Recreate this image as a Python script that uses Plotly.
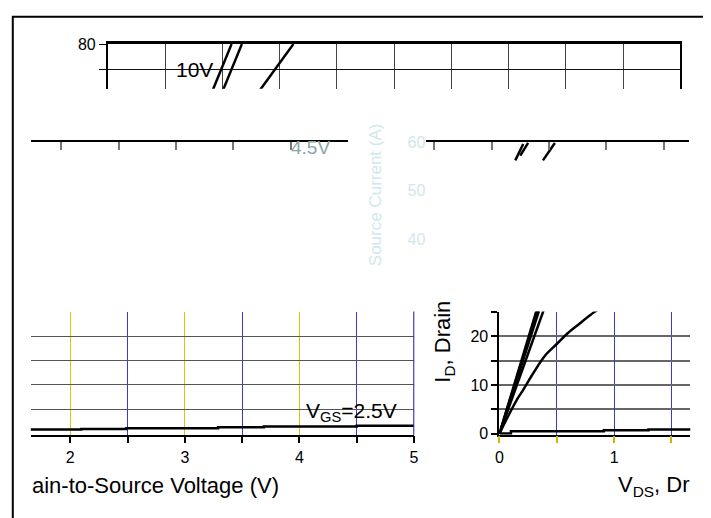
import plotly.graph_objects as go

W, H = 711, 518

# ---------------- data ----------------
# top strip (upper chart, high-current region)
top_y = [70, 80]
top_x_10v = [0.90, 1.08]
top_x_8v = [0.99, 1.17]
top_x_6v = [1.30, 1.62]

# middle-right fragments
mid_x_a = [0.707, 0.776]
mid_y_a = [56.2, 59.6]
mid_x_b = [0.750, 0.819]
mid_y_b = [57.2, 59.8]
mid_x_c = [0.948, 1.052]
mid_y_c = [56.2, 59.8]
mid_ticklabels = ["40", "50", "60"]
mid_tickvals = [40, 50, 60]

# output characteristics (V_DS, I_D)
vgs25_x = [0, 0.1, 0.91, 1.3, 2.095, 2.49, 3.29, 3.69, 4.5, 5.0]
vgs25_y = [0.05, 0.5, 0.7, 0.85, 0.95, 1.1, 1.3, 1.45, 1.65, 1.65]

steep_y = [0, 10, 20, 28]
steep_x1 = [0, 0.128, 0.256, 0.358]
steep_x2 = [0, 0.132, 0.264, 0.370]
steep_x3 = [0, 0.137, 0.274, 0.383]
steep_x4 = [0, 0.152, 0.304, 0.426]

v45_x = [0, 0.05, 0.1, 0.15, 0.207, 0.3, 0.397, 0.5, 0.595, 0.7, 0.83, 0.9]
v45_y = [0, 2.4, 4.7, 6.9, 9.0, 12.6, 16.0, 18.4, 20.6, 22.6, 25.0, 26.0]

FONT = "Liberation Sans, Arial, sans-serif"
GHOST = "#cfe8eb"
OFF = 8  # page offset of the plot inside the browser window


def px(x):
    return (x - OFF) / W


def py(y):
    return 1 - (y - OFF) / H


fig = go.Figure()
line = dict(color="black", width=2.5)

# chart A (top)
for xs in (top_x_10v, top_x_8v, top_x_6v):
    fig.add_trace(go.Scatter(x=xs, y=top_y, mode="lines", line=line,
                             xaxis="x", yaxis="y", hoverinfo="skip"))
# chart B-left (axis strip only, invisible trace)
fig.add_trace(go.Scatter(x=[0], y=[0], mode="markers", marker=dict(opacity=0),
                         xaxis="x4", yaxis="y4", hoverinfo="skip"))
# chart B-right fragments
for xs, ys in ((mid_x_a, mid_y_a), (mid_x_b, mid_y_b), (mid_x_c, mid_y_c)):
    fig.add_trace(go.Scatter(x=xs, y=ys, mode="lines", line=line,
                             xaxis="x5", yaxis="y5", hoverinfo="skip"))
# charts C and D share the same series
for xa, ya in (("x2", "y2"), ("x3", "y3")):
    fig.add_trace(go.Scatter(x=vgs25_x, y=vgs25_y, mode="lines", line=line,
                             line_shape="hv", xaxis=xa, yaxis=ya, hoverinfo="skip"))
    for xs in (steep_x1, steep_x2, steep_x3, steep_x4):
        fig.add_trace(go.Scatter(x=xs, y=steep_y, mode="lines", line=line,
                                 xaxis=xa, yaxis=ya, hoverinfo="skip"))
    fig.add_trace(go.Scatter(x=v45_x, y=v45_y, mode="lines", line=line,
                             line_shape="spline", xaxis=xa, yaxis=ya, hoverinfo="skip"))

tickfont = dict(family=FONT, size=16, color="black")

fig.update_layout(
    width=W, height=H,
    margin=dict(l=0, r=0, t=0, b=0),
    paper_bgcolor="white", plot_bgcolor="rgba(0,0,0,0)",
    showlegend=False,
    font=dict(family=FONT, color="black"),
    # ---- A ----
    xaxis=dict(domain=[px(105), px(684)], range=[0, 5], anchor="y", side="top",
               showline=True, linecolor="black", linewidth=2.5,
               showticklabels=False, ticks="", dtick=0.5, tick0=0,
               showgrid=True, gridcolor="#444", gridwidth=1.2, zeroline=False),
    yaxis=dict(domain=[py(83), py(37)], range=[71.15, 80], anchor="x",
               showline=True, mirror=True, linecolor="black", linewidth=2,
               tickmode="array", tickvals=[75, 80], ticktext=[" ", "80"],
               ticks="outside", ticklen=7, tickcolor="black", tickfont=tickfont,
               showgrid=True, gridcolor="#111", gridwidth=1.2, zeroline=False),
    # ---- C ----
    xaxis2=dict(domain=[px(27), px(415)], range=[1.655, 5.004], anchor="y2",
                showline=True, linecolor="black", linewidth=1.5,
                tickmode="linear", tick0=0, dtick=1, tickfont=tickfont,
                ticks="outside", ticklen=7, tickwidth=2, tickcolor="black",
                showgrid=True, gridcolor="#d8c800", gridwidth=1.3, zeroline=False,
                minor=dict(tickmode="linear", tick0=0, dtick=0.5, ticks="outside",
                           ticklen=7, tickwidth=2, tickcolor="black", showgrid=True,
                           gridcolor="#3a3ad0", gridwidth=1.2)),
    yaxis2=dict(domain=[py(440), py(313)], range=[-0.2, 25.05], anchor="x2",
                showline=False, showticklabels=False, ticks="",
                tickmode="linear", tick0=0, dtick=5,
                showgrid=True, gridcolor="#555", gridwidth=1.2,
                zeroline=True, zerolinecolor="black", zerolinewidth=1.5),
    # ---- D ----
    xaxis3=dict(domain=[px(501), px(694)], range=[0, 1.664], anchor="y3",
                showline=True, linecolor="black", linewidth=1.5,
                tickmode="linear", tick0=0, dtick=1, tickfont=tickfont,
                ticks="outside", ticklen=7, tickwidth=2, tickcolor="#c8b800",
                showgrid=True, gridcolor="#3a3ad0", gridwidth=1.2, zeroline=False,
                minor=dict(tickmode="linear", tick0=0, dtick=0.5, ticks="outside",
                           ticklen=7, tickwidth=2, tickcolor="#c8b800", showgrid=True,
                           gridcolor="#3a3ad0", gridwidth=1.2)),
    yaxis3=dict(domain=[py(440), py(313)], range=[-0.2, 25.05], anchor="x3",
                showline=True, linecolor="black", linewidth=2,
                tickmode="linear", tick0=0, dtick=10, tickfont=tickfont,
                ticks="outside", ticklen=6, tickwidth=1.5, tickcolor="black",
                showgrid=True, gridcolor="#666", gridwidth=1.5,
                zeroline=True, zerolinecolor="black", zerolinewidth=1.5,
                minor=dict(tickmode="linear", tick0=0, dtick=5, ticks="outside",
                           ticklen=6, tickwidth=1.5, tickcolor="black", showgrid=True,
                           gridcolor="#666", gridwidth=1.5)),
    # ---- B-left strip ----
    xaxis4=dict(domain=[px(27), px(348)], range=[-0.267, 2.5], anchor="y4", side="top",
                showline=True, linecolor="black", linewidth=1.5,
                tickmode="linear", tick0=0, dtick=0.5, ticks="inside", ticklen=8,
                tickwidth=1.5, tickcolor="#777", showticklabels=False,
                showgrid=False, zeroline=False),
    yaxis4=dict(domain=[py(160), py(138)], range=[0, 1], anchor="x4",
                visible=False),
    # ---- B-right ----
    xaxis5=dict(domain=[px(427), px(693)], range=[-0.069, 2.224], anchor="y5", side="top",
                showline=True, linecolor="black", linewidth=1.5,
                tickmode="linear", tick0=0, dtick=0.5, ticks="inside", ticklen=8,
                tickwidth=1.5, tickcolor="#777", showticklabels=False,
                showgrid=False, zeroline=False),
    yaxis5=dict(domain=[py(290), py(138)], range=[29.6, 60], anchor="x5",
                showline=False, tickmode="array", tickvals=mid_tickvals,
                ticktext=mid_ticklabels, ticks="", showgrid=False, zeroline=False,
                tickfont=dict(family=FONT, size=16, color=GHOST)),
)

# right edge of chart C is drawn blue rather than yellow
fig.add_shape(type="line", xref="x2", yref="y2 domain", x0=5, x1=5, y0=0, y1=1,
              line=dict(color="#2a2ab0", width=1.5))

# outer frame (left and top edges of the page)
fig.add_shape(type="line", xref="paper", yref="paper",
              x0=0.8 / W, x1=0.8 / W, y0=0, y1=1,
              line=dict(color="black", width=2))
fig.add_shape(type="line", xref="paper", yref="paper",
              x0=0, x1=1, y0=1 - 0.8 / H, y1=1 - 0.8 / H,
              line=dict(color="black", width=2))


def ann(text, x, y, size=20, color="black", xanchor="left", angle=0):
    fig.add_annotation(text=text, xref="paper", yref="paper", x=px(x), y=py(y),
                       xanchor=xanchor, yanchor="middle", showarrow=False,
                       textangle=angle, font=dict(family=FONT, size=size, color=color))


ann("10V", 172, 63, size=21)
ann("V<sub>GS</sub>=2.5V", 303, 417, size=21)
ann("ain-to-Source Voltage (V)", 26, 492, size=22)
ann("V<sub>DS</sub>, Dr", 619, 493, size=22)
ann("I<sub>D</sub>, Drain", 445, 344, size=22, xanchor="center", angle=-90)
ann("4.5V", 288, 144, size=19, color="#8aa6aa")
ann("Source Current (A)", 375, 192, size=17, color=GHOST, xanchor="center", angle=-90)

fig.write_html("out.html")
